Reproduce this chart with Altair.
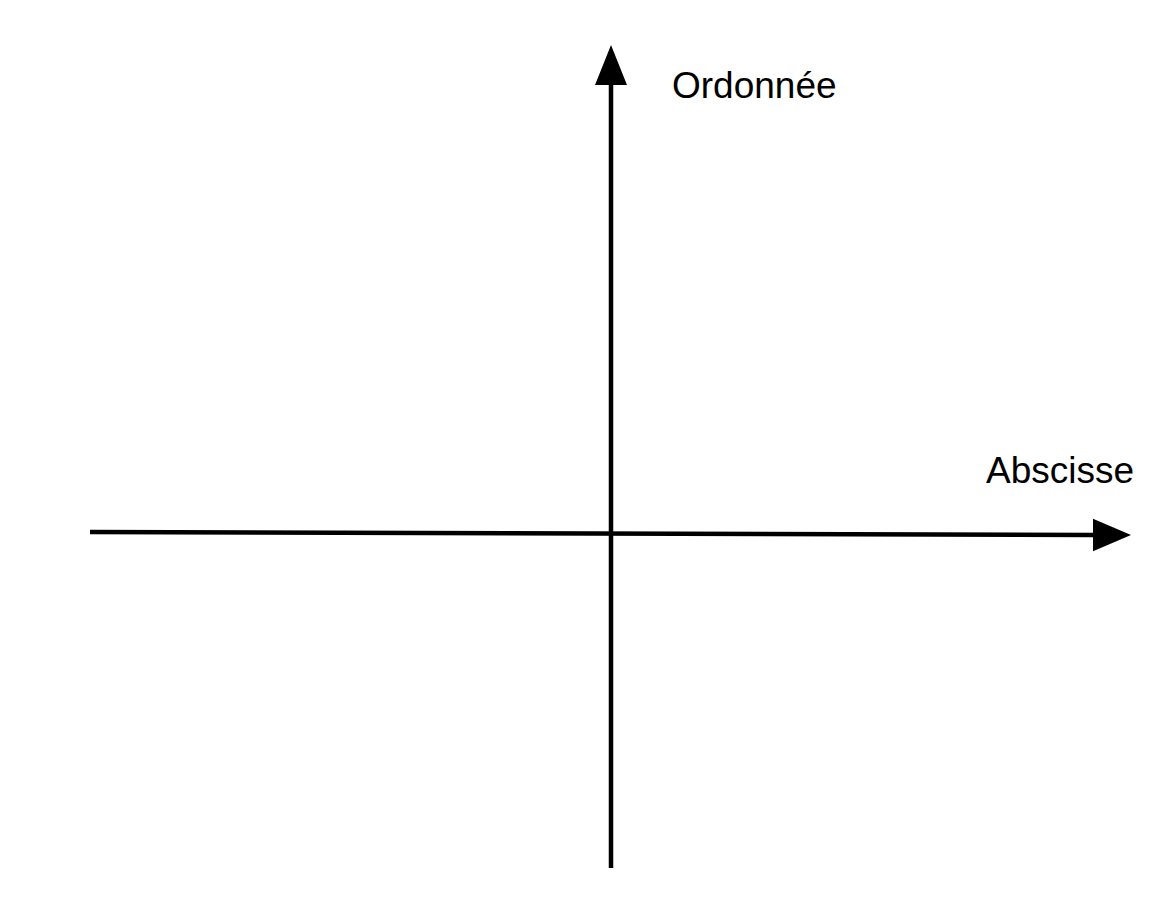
import altair as alt
import pandas as pd

# Axis segments (math units, origin at the crossing point)
seg_name = ["abscisse", "ordonnee"]
seg_x1 = [-5.20, 0.01]
seg_x2 = [4.83, 0.01]
seg_y1 = [0.01, -3.35]
seg_y2 = [-0.02, 4.48]

# Arrow heads
head_name = ["right", "up"]
head_x = [5.02, 0.01]
head_y = [-0.02, 4.68]

# Labels
label_text = ["Abscisse", "Ordonnée"]
label_x = [3.76, 0.62]
label_y = [0.50, 4.35]

X_DOM = [-6.02, 5.58]
Y_DOM = [-3.67, 5.25]

segs = pd.DataFrame({"name": seg_name, "x": seg_x1, "x2": seg_x2, "y": seg_y1, "y2": seg_y2})
heads = pd.DataFrame({"name": head_name, "x": head_x, "y": head_y})
labels = pd.DataFrame({"text": label_text, "x": label_x, "y": label_y})

xs = alt.Scale(domain=X_DOM, nice=False, zero=False)
ys = alt.Scale(domain=Y_DOM, nice=False, zero=False)

lines = alt.Chart(segs).mark_rule(color="black", strokeWidth=4.5).encode(
    x=alt.X("x:Q", scale=xs, axis=None),
    x2="x2:Q",
    y=alt.Y("y:Q", scale=ys, axis=None),
    y2="y2:Q",
)

right_head = alt.Chart(heads[heads["name"] == "right"]).mark_point(
    shape="M -1 -0.85 L 1 0 L -1 0.85 Z", size=1444, filled=True, color="black", opacity=1
).encode(x=alt.X("x:Q", scale=xs, axis=None), y=alt.Y("y:Q", scale=ys, axis=None))

up_head = alt.Chart(heads[heads["name"] == "up"]).mark_point(
    shape="M -0.8 1 L 0 -1 L 0.8 1 Z", size=1600, filled=True, color="black", opacity=1
).encode(x=alt.X("x:Q", scale=xs, axis=None), y=alt.Y("y:Q", scale=ys, axis=None))

texts = alt.Chart(labels).mark_text(
    align="left", baseline="alphabetic", fontSize=37, font="Liberation Sans", color="black"
).encode(
    x=alt.X("x:Q", scale=xs, axis=None),
    y=alt.Y("y:Q", scale=ys, axis=None),
    text="text:N",
)

chart = alt.layer(lines, right_head, up_head, texts).properties(
    width=1160, height=892, padding=0,
    autosize=alt.AutoSizeParams(type="none"),
).configure_view(stroke=None)

chart.save("out.html", embed_options={"renderer": "svg", "actions": False})
